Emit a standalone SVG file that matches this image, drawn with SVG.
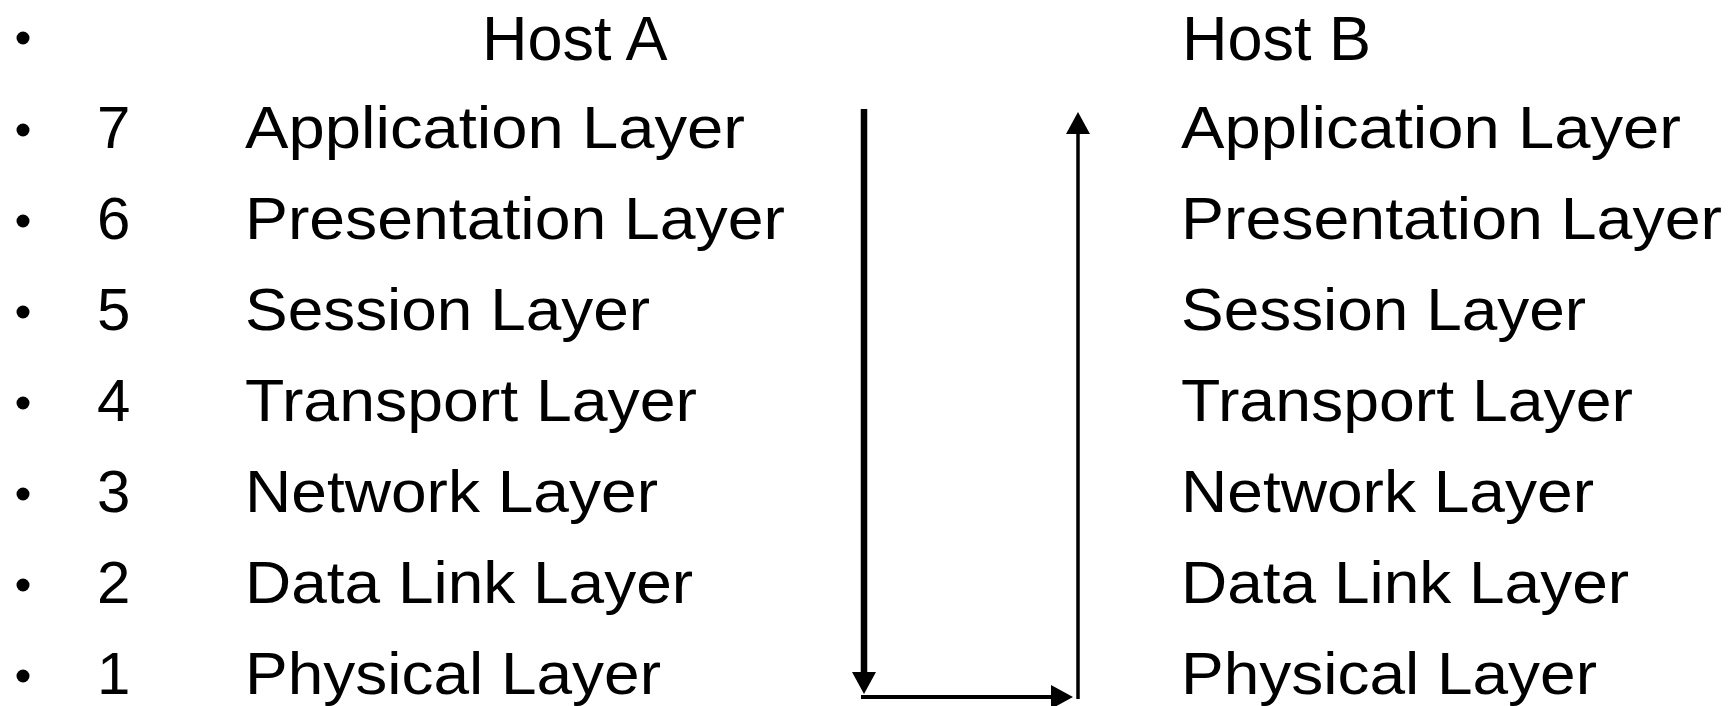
<svg xmlns="http://www.w3.org/2000/svg" width="1728" height="706" viewBox="0 0 1728 706">
  <style>
    .t { font-family: "Liberation Sans", Arial, sans-serif; font-size: 60px; fill: #000; }
    .h { font-family: "Liberation Sans", Arial, sans-serif; font-size: 63px; fill: #000; }
    .b { fill: #000; }
    .c { fill: none; stroke: #000; }
  </style>
  <defs>
    <marker id="ah" viewBox="0 0 22 24" refX="10" refY="12" markerWidth="22" markerHeight="24" markerUnits="userSpaceOnUse" orient="auto">
      <path d="M0,0 L22,12 L0,24 z" fill="#000"/>
    </marker>
  </defs>
  <rect width="1728" height="706" fill="#fff"/>

  <g id="bullets">
    <circle class="b" cx="23" cy="38" r="6.5"/>
    <circle class="b" cx="23" cy="130" r="6.5"/>
    <circle class="b" cx="23" cy="221" r="6.5"/>
    <circle class="b" cx="23" cy="312" r="6.5"/>
    <circle class="b" cx="23" cy="403" r="6.5"/>
    <circle class="b" cx="23" cy="494" r="6.5"/>
    <circle class="b" cx="23" cy="585" r="6.5"/>
    <circle class="b" cx="23" cy="676" r="6.5"/>
  </g>

  <g id="hostA">
    <text class="h" x="482" y="60">Host A</text>
    <text class="t" x="97" y="148">7</text>
    <text class="t" x="245" y="148" textLength="500" lengthAdjust="spacingAndGlyphs">Application Layer</text>
    <text class="t" x="97" y="239">6</text>
    <text class="t" x="245" y="239" textLength="540" lengthAdjust="spacingAndGlyphs">Presentation Layer</text>
    <text class="t" x="97" y="330">5</text>
    <text class="t" x="245" y="330" textLength="405" lengthAdjust="spacingAndGlyphs">Session Layer</text>
    <text class="t" x="97" y="421">4</text>
    <text class="t" x="245" y="421" textLength="452" lengthAdjust="spacingAndGlyphs">Transport Layer</text>
    <text class="t" x="97" y="512">3</text>
    <text class="t" x="245" y="512" textLength="413" lengthAdjust="spacingAndGlyphs">Network Layer</text>
    <text class="t" x="97" y="603">2</text>
    <text class="t" x="245" y="603" textLength="448" lengthAdjust="spacingAndGlyphs">Data Link Layer</text>
    <text class="t" x="97" y="694">1</text>
    <text class="t" x="245" y="694" textLength="416" lengthAdjust="spacingAndGlyphs">Physical Layer</text>
  </g>

  <g id="hostB">
    <text class="h" x="1182" y="60">Host B</text>
    <text class="t" x="1181" y="148" textLength="500" lengthAdjust="spacingAndGlyphs">Application Layer</text>
    <text class="t" x="1181" y="239" textLength="541" lengthAdjust="spacingAndGlyphs">Presentation Layer</text>
    <text class="t" x="1181" y="330" textLength="405" lengthAdjust="spacingAndGlyphs">Session Layer</text>
    <text class="t" x="1181" y="421" textLength="452" lengthAdjust="spacingAndGlyphs">Transport Layer</text>
    <text class="t" x="1181" y="512" textLength="413" lengthAdjust="spacingAndGlyphs">Network Layer</text>
    <text class="t" x="1181" y="603" textLength="448" lengthAdjust="spacingAndGlyphs">Data Link Layer</text>
    <text class="t" x="1181" y="694" textLength="416" lengthAdjust="spacingAndGlyphs">Physical Layer</text>
  </g>

  <g id="connectors">
    <path class="c" d="M864,109 V682" stroke-width="6.5" marker-end="url(#ah)"/>
    <path class="c" d="M861,697 H1061" stroke-width="4" marker-end="url(#ah)"/>
    <path class="c" d="M1078,699 V124" stroke-width="3.5" marker-end="url(#ah)"/>
  </g>
</svg>
